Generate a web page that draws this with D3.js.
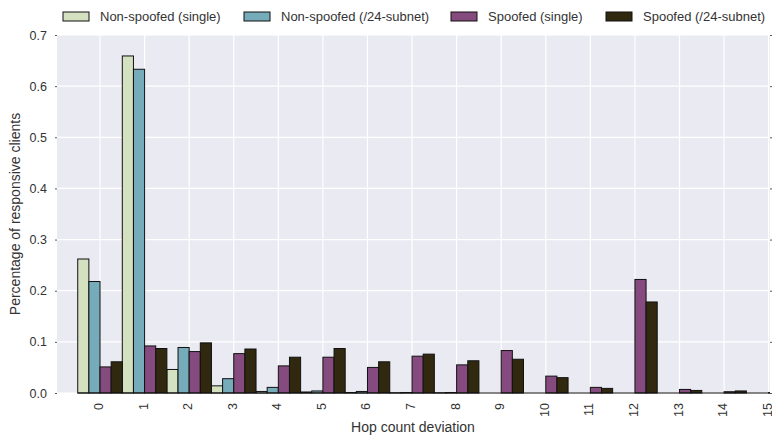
<!DOCTYPE html>
<html>
<head>
<meta charset="utf-8">
<script src="https://cdn.jsdelivr.net/npm/d3@7"></script>
<style>
	body { margin: 0; background: #fff; }
	text { font-family: "Liberation Sans", Arial, sans-serif; fill: #333; }
</style>
</head>
<body>
<script>
// hop count deviation categories
var hops = [0, 1, 2, 3, 4, 5, 6, 7, 8, 9, 10, 11, 12, 13, 14, 15];
var seriesNames = ["Non-spoofed (single)", "Non-spoofed (/24-subnet)", "Spoofed (single)", "Spoofed (/24-subnet)"];
var seriesColors = ["#d4e1c1", "#76abba", "#864b7e", "#30280f"];

// values, one array per series
var nonSpoofedSingle = [0.262, 0.659, 0.046, 0.014, 0.003, 0.002, 0.001, 0.0005, 0.0005, 0, 0, 0, 0, 0, 0, 0];
var nonSpoofedSubnet = [0.218, 0.633, 0.089, 0.028, 0.011, 0.004, 0.003, 0.001, 0.001, 0, 0, 0, 0, 0, 0, 0];
var spoofedSingle = [0.051, 0.092, 0.081, 0.077, 0.053, 0.070, 0.050, 0.072, 0.055, 0.083, 0.033, 0.011, 0.222, 0.007, 0.0025, 0.001];
var spoofedSubnet = [0.061, 0.087, 0.098, 0.086, 0.070, 0.087, 0.061, 0.076, 0.063, 0.066, 0.030, 0.009, 0.178, 0.005, 0.004, 0.001];

var yTicks = [0.0, 0.1, 0.2, 0.3, 0.4, 0.5, 0.6, 0.7];

var allSeries = [nonSpoofedSingle, nonSpoofedSubnet, spoofedSingle, spoofedSubnet];

var width = 772;
var height = 435;
// plot box (window.top is taken, so use own names)
var plotLeft = 57, plotRight = 770, plotTop = 35, plotBottom = 393;

var svg = d3.select("body")
			.append("svg")
			.attr("width", width)
			.attr("height", height);

var x = d3.scaleLinear().domain([-0.965, 15.03]).range([plotLeft, plotRight]);
var y = d3.scaleLinear().domain([0, 0.7]).range([plotBottom, plotTop]);
var barW = 0.25; // four bars fill one unit

svg.append("clipPath")
			.attr("id", "plotclip")
			.append("rect")
			.attr("x", plotLeft)
			.attr("y", plotTop - 2)
			.attr("width", plotRight - plotLeft)
			.attr("height", plotBottom - plotTop + 4);

// background
svg.append("rect")
			.attr("x", plotLeft)
			.attr("y", plotTop)
			.attr("width", plotRight - plotLeft)
			.attr("height", plotBottom - plotTop)
			.attr("fill", "#eaeaf2");

// grid lines
var grid = svg.append("g").attr("clip-path", "url(#plotclip)");
grid.selectAll(".hg")
			.data(yTicks)
			.enter()
			.append("line")
			.attr("x1", plotLeft)
			.attr("x2", plotRight)
			.attr("y1", d => y(d))
			.attr("y2", d => y(d))
			.attr("stroke", "#fff")
			.attr("stroke-width", 1.2);
grid.selectAll(".vg")
			.data(hops)
			.enter()
			.append("line")
			.attr("x1", d => x(d))
			.attr("x2", d => x(d))
			.attr("y1", plotTop)
			.attr("y2", plotBottom)
			.attr("stroke", "#fff")
			.attr("stroke-width", 1.2);

// bars
var bars = svg.append("g").attr("clip-path", "url(#plotclip)");
allSeries.forEach(function(vals, s) {
	bars.selectAll(".b" + s)
			.data(vals)
			.enter()
			.append("rect")
			.attr("x", (d, i) => x(hops[i] - 0.5 + s * barW))
			.attr("y", d => y(d))
			.attr("width", x(barW) - x(0))
			.attr("height", d => y(0) - y(d))
			.attr("fill", seriesColors[s])
			.attr("stroke", "#111")
			.attr("stroke-width", 1);
});
// zero-height bars still show their edge along the baseline
bars.append("line")
			.attr("x1", x(hops[0] - 0.5))
			.attr("x2", x(hops[hops.length - 1] + 0.5))
			.attr("y1", y(0))
			.attr("y2", y(0))
			.attr("stroke", "#111")
			.attr("stroke-width", 1);

// y axis
var yAxis = d3.axisLeft(y).tickValues(yTicks).tickFormat(d3.format(".1f")).tickSize(2).tickPadding(8);
var yg = svg.append("g")
			.attr("transform", "translate(" + plotLeft + ",0)")
			.call(yAxis);
yg.select(".domain").remove();
yg.selectAll("line").attr("stroke", "#555");
yg.selectAll("text").attr("font-size", 12.5).attr("font-family", null).style("fill", "#333");

// little ticks on right side
svg.append("g")
			.attr("transform", "translate(" + plotRight + ",0)")
			.call(d3.axisRight(y).tickValues(yTicks).tickSize(2).tickFormat(""))
			.call(g => g.select(".domain").remove())
			.selectAll("line").attr("stroke", "#555");

// x tick labels, rotated
svg.append("g")
			.selectAll("text")
			.data(hops)
			.enter()
			.append("text")
			.attr("transform", d => "translate(" + (x(d) - 1) + "," + (plotBottom + 10) + ") rotate(-90)")
			.attr("text-anchor", "end")
			.attr("dominant-baseline", "central")
			.attr("font-size", 12.5)
			.text(d => d);

// axis titles
svg.append("text")
			.attr("x", 413)
			.attr("y", 432)
			.attr("text-anchor", "middle")
			.attr("font-size", 14)
			.text("Hop count deviation");
svg.append("text")
			.attr("transform", "translate(20," + ((plotTop + plotBottom) / 2) + ") rotate(-90)")
			.attr("text-anchor", "middle")
			.attr("font-size", 14)
			.text("Percentage of responsive clients");

// legend
var legendX = [63, 244, 451, 606];
var legend = svg.append("g");
seriesNames.forEach(function(name, s) {
	legend.append("rect")
			.attr("x", legendX[s])
			.attr("y", 12)
			.attr("width", 26)
			.attr("height", 9)
			.attr("fill", seriesColors[s])
			.attr("stroke", "#111")
			.attr("stroke-width", 1);
	legend.append("text")
			.attr("x", legendX[s] + 37)
			.attr("y", 21)
			.attr("font-size", 13)
			.text(name);
});
</script>
</body>
</html>
